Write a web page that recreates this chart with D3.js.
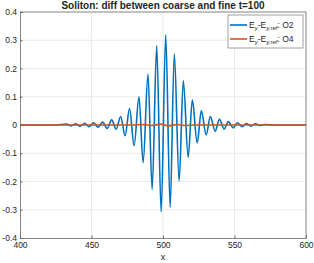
<!DOCTYPE html>
<html><head><meta charset="utf-8">
<script src="https://cdn.jsdelivr.net/npm/d3@7"></script>
<style>body{margin:0;background:#fff}svg{display:block}text{font-family:"Liberation Sans",Arial,sans-serif;fill:#262626}</style>
</head><body><svg id="c" width="314" height="263"></svg>
<script>
const xTicks = [400, 450, 500, 550, 600];
const yTicks = [-0.4, -0.3, -0.2, -0.1, 0, 0.1, 0.2, 0.3, 0.4];
const yTickLabels = ["-0.4", "-0.3", "-0.2", "-0.1", "0", "0.1", "0.2", "0.3", "0.4"];
const o2X = [400, 425, 432.6, 435.7, 438.9, 442.0, 445.2, 448.3, 451.5, 454.6, 457.8, 460.9, 464.1, 467.2,
  470.4, 473.5, 476.6, 479.8, 483.2, 486.1, 489.5, 492.4, 495.6, 498.7, 501.9, 505.0, 507.9, 511.3,
  514.2, 517.6, 520.5, 523.9, 526.8, 530.2, 533.1, 536.5, 539.4, 542.8, 545.7, 549.1, 552.0, 555.4,
  558.3, 561.7, 564.6, 568.0, 570.9, 580, 600];
const o2Y = [0, 0, 0.003, -0.003, 0.004, -0.004, 0.006, -0.006, 0.008, -0.008, 0.010, -0.012, 0.018, -0.015,
  0.030, -0.038, 0.058, -0.073, 0.100, -0.133, 0.180, -0.228, 0.280, -0.307, 0.318, -0.291, 0.252, -0.198,
  0.157, -0.114, 0.088, -0.063, 0.050, -0.035, 0.030, -0.022, 0.020, -0.014, 0.012, -0.010, 0.008, -0.006,
  0.005, -0.004, 0.004, -0.002, 0.002, 0, 0];
const o4X = [400, 480, 486, 492, 498, 504, 510, 516, 522, 600];
const o4Y = [0, 0, 0.002, -0.002, 0.003, -0.003, 0.002, -0.002, 0, 0];
const titleText = "Soliton: diff between coarse and fine t=100";

const svg = d3.select("#c");
const m = {l: 20, r: 8, t: 12, b: 25};
const W = 314, H = 263;
const x = d3.scaleLinear().domain([400, 600]).range([m.l, W - m.r]);
const y = d3.scaleLinear().domain([-0.4, 0.4]).range([H - m.b, m.t]);

// grid
svg.append("g").selectAll("line").data(xTicks.slice(1, -1)).join("line")
  .attr("x1", d => x(d)).attr("x2", d => x(d)).attr("y1", y(-0.4)).attr("y2", y(0.4))
  .attr("stroke", "#e6e6e6").attr("stroke-width", 0.8);
svg.append("g").selectAll("line").data(yTicks.slice(1, -1)).join("line")
  .attr("y1", d => y(d)).attr("y2", d => y(d)).attr("x1", x(400)).attr("x2", x(600))
  .attr("stroke", "#e6e6e6").attr("stroke-width", 0.8);

// axes
const ax = svg.append("g").attr("transform", `translate(0,${y(-0.4)})`)
  .call(d3.axisBottom(x).tickValues(xTicks).tickSize(-2.5).tickPadding(4));
const ay = svg.append("g").attr("transform", `translate(${x(400)},0)`)
  .call(d3.axisLeft(y).tickValues(yTicks).tickFormat((d, i) => yTickLabels[i]).tickSize(-2.5).tickPadding(3));
[ax, ay].forEach(g => {
  g.select(".domain").attr("stroke", "#666").attr("stroke-width", 0.8);
  g.selectAll(".tick line").attr("stroke", "#666");
  g.selectAll("text").attr("font-size", 8.5).attr("fill", "#262626");
});
// box top/right
svg.append("line").attr("x1", x(400)).attr("x2", x(600)).attr("y1", y(0.4)).attr("y2", y(0.4)).attr("stroke", "#666").attr("stroke-width", 0.8);
svg.append("line").attr("x1", x(600)).attr("x2", x(600)).attr("y1", y(0.4)).attr("y2", y(-0.4)).attr("stroke", "#666").attr("stroke-width", 0.8);

const line = d3.line().x(d => x(d[0])).y(d => y(d[1])).curve(d3.curveMonotoneX);
svg.append("path").datum(o2X.map((v, i) => [v, o2Y[i]])).attr("d", line)
  .attr("fill", "none").attr("stroke", "#0072BD").attr("stroke-width", 1.6);
svg.append("path").datum(o4X.map((v, i) => [v, o4Y[i]])).attr("d", line)
  .attr("fill", "none").attr("stroke", "#D95319").attr("stroke-width", 1.6);

// title
svg.append("text").attr("x", 163).attr("y", 9).attr("text-anchor", "middle")
  .attr("font-size", 10).attr("font-weight", "bold").text(titleText);
// x label
svg.append("text").attr("x", x(500)).attr("y", 260).attr("text-anchor", "middle").attr("font-size", 9).text("x");

// legend
const lg = svg.append("g");
lg.append("rect").attr("x", 228).attr("y", 15).attr("width", 75).attr("height", 33)
  .attr("fill", "#fff").attr("stroke", "#888").attr("stroke-width", 0.8);
const entries = [{c: "#0072BD", o: "O2", yy: 25}, {c: "#D95319", o: "O4", yy: 39}];
entries.forEach(e => {
  lg.append("line").attr("x1", 230).attr("x2", 247).attr("y1", e.yy).attr("y2", e.yy)
    .attr("stroke", e.c).attr("stroke-width", 1.6);
  const t = lg.append("text").attr("x", 249).attr("y", e.yy + 2.5).attr("font-size", 8.5);
  t.append("tspan").text("E");
  t.append("tspan").attr("dy", 2.5).attr("font-size", 6).attr("font-style", "italic").text("y");
  t.append("tspan").attr("dy", -2.5).text("-E");
  t.append("tspan").attr("dy", 2.5).attr("font-size", 6).attr("font-style", "italic").text("y,ref");
  t.append("tspan").attr("dy", -2.5).text(": " + e.o);
});
</script></body></html>
